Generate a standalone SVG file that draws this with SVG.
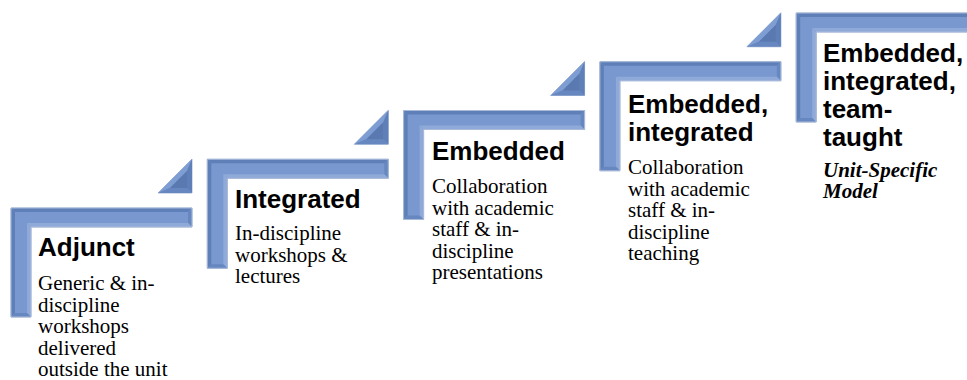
<svg xmlns="http://www.w3.org/2000/svg" xmlns:xlink="http://www.w3.org/1999/xlink" width="967" height="380" viewBox="0 0 967 380">
<style>
.h{font-family:"Liberation Sans",Arial,sans-serif;font-weight:bold;font-size:26px;fill:#000}
.b{font-family:"Liberation Serif","Times New Roman",serif;font-size:21px;fill:#000}
.bi{font-family:"Liberation Serif","Times New Roman",serif;font-size:21px;font-weight:bold;font-style:italic;fill:#000}
.main{fill:#7898cf;stroke:#a9bad8;stroke-width:1}
.fo{fill:#5f7fb8}
.fi{fill:#8fa9d8}
.fe{fill:#6787c0}
.tm{fill:#5a79b0}
.th{fill:#7e9dd2}
</style>
<defs>
<g id="corner">
<polygon class="main" points="0,0 181,0 181,19 20,19 20,109 0,109"/>
<polygon class="fo" points="0,0 181,0 177,4 4,4"/>
<polygon class="fo" points="0,0 4,4 4,105 0,109"/>
<polygon class="fe" points="181,0 181,19 177,15 177,4"/>
<polygon class="fi" points="20,19 181,19 177,15 16,15"/>
<polygon class="fi" points="20,19 20,109 16,105 16,15"/>
<polygon class="fe" points="0,109 20,109 16,105 4,105"/>
<polygon points="0,0 181,0 181,19 20,19 20,109 0,109" fill="none" stroke="#a9bad8" stroke-width="1"/>
</g>
<g id="tri">
<polygon points="0,34 34,0 34,34" fill="#6b8bc3" stroke="#a9bad8" stroke-width="1"/>
<polygon class="th" points="0,34 34,0 29,12 12,29"/>
<polygon class="fo" points="34,0 34,34 29,29 29,12"/>
<polygon class="fe" points="34,34 0,34 12,29 29,29"/>
<polygon class="tm" points="12,29 29,12 29,29"/>
</g>
</defs>
<rect width="967" height="380" fill="#fff"/>
<g id="connectors">
<use href="#tri" xlink:href="#tri" transform="translate(158,159)"/>
<use href="#tri" xlink:href="#tri" transform="translate(354.3,110.25)"/>
<use href="#tri" xlink:href="#tri" transform="translate(550.6,61.5)"/>
<use href="#tri" xlink:href="#tri" transform="translate(746.9,12.75)"/>
</g>
<g id="step-adjunct">
<use href="#corner" xlink:href="#corner" transform="translate(11,208)"/>
<text class="h" x="38" y="256">Adjunct</text>
<text class="b" x="38" y="290">Generic &amp; in-</text>
<text class="b" x="38" y="311.5">discipline</text>
<text class="b" x="38" y="333">workshops</text>
<text class="b" x="38" y="354.5">delivered</text>
<text class="b" x="38" y="376">outside the unit</text>
</g>
<g id="step-integrated">
<use href="#corner" xlink:href="#corner" transform="translate(207.3,159.25)"/>
<text class="h" x="235" y="208">Integrated</text>
<text class="b" x="235" y="240">In-discipline</text>
<text class="b" x="235" y="261.5">workshops &amp;</text>
<text class="b" x="235" y="283">lectures</text>
</g>
<g id="step-embedded">
<use href="#corner" xlink:href="#corner" transform="translate(403.6,110.5)"/>
<text class="h" x="432" y="160">Embedded</text>
<text class="b" x="432" y="193">Collaboration</text>
<text class="b" x="432" y="214.5">with academic</text>
<text class="b" x="432" y="236">staff &amp; in-</text>
<text class="b" x="432" y="257.5">discipline</text>
<text class="b" x="432" y="279">presentations</text>
</g>
<g id="step-embedded-integrated">
<use href="#corner" xlink:href="#corner" transform="translate(599.9,61.75)"/>
<text class="h" x="628" y="113">Embedded,</text>
<text class="h" x="628" y="141">integrated</text>
<text class="b" x="628" y="174">Collaboration</text>
<text class="b" x="628" y="195.5">with academic</text>
<text class="b" x="628" y="217">staff &amp; in-</text>
<text class="b" x="628" y="238.5">discipline</text>
<text class="b" x="628" y="260">teaching</text>
</g>
<g id="step-team-taught">
<use href="#corner" xlink:href="#corner" transform="translate(796.2,13)"/>
<text class="h" x="823" y="62">Embedded,</text>
<text class="h" x="823" y="90">integrated,</text>
<text class="h" x="823" y="118">team-</text>
<text class="h" x="823" y="146">taught</text>
<text class="bi" x="823" y="177">Unit-Specific</text>
<text class="bi" x="823" y="198">Model</text>
</g>
</svg>
